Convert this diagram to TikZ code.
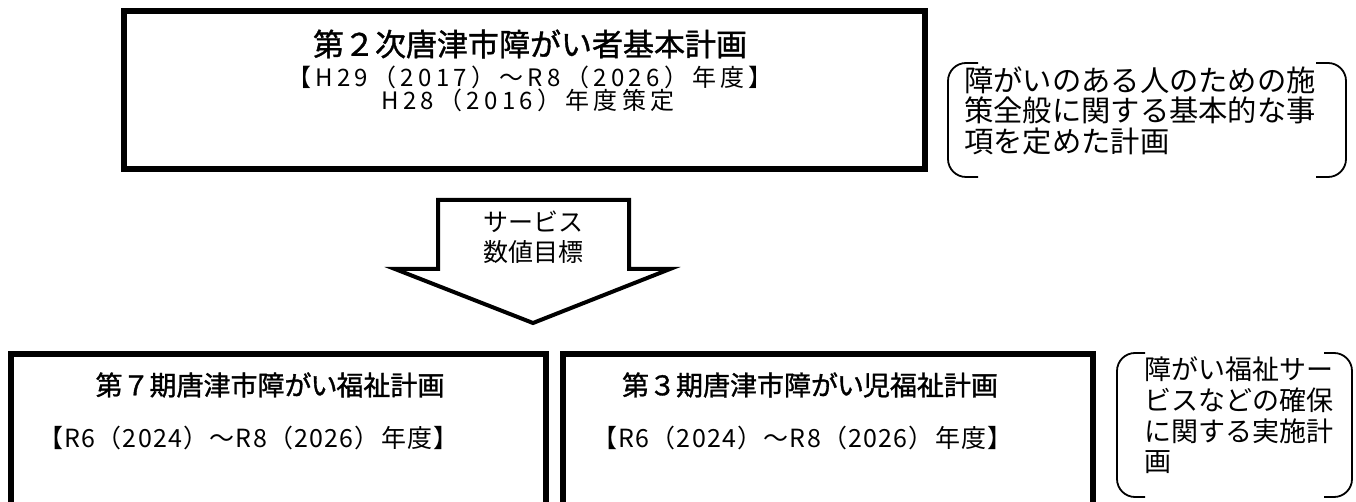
\documentclass[tikz,border=0pt]{standalone}
\usepackage{fontspec}
\setmainfont{Noto Sans CJK JP}
\newfontfamily\cjkb[FakeBold=1.2]{Noto Sans CJK JP}
\newfontfamily\cjkbp[FakeBold=1.2, CharacterWidth=AlternateProportional]{Noto Sans CJK JP}
\newfontfamily\cjksp[LetterSpace=18]{Noto Sans CJK JP}
\newfontfamily\cjkspb[LetterSpace=5]{Noto Sans CJK JP}
\newcommand\fsz[2]{\fontsize{#1pt}{#2pt}\selectfont}
\newcommand\kana[1]{{\cjkbp #1}}
\begin{document}
\begin{tikzpicture}[x=1pt,y=-1pt,
  planbox/.style={draw, line width=6pt, inner sep=0pt},
  toptitle/.style={inner sep=0pt, font=\cjkb\fsz{31}{34}},
  bottitle/.style={inner sep=0pt, font=\cjkb\fsz{27}{30}},
  topsub/.style={inner sep=0pt, font=\cjksp\fsz{24}{28}},
  botsub/.style={inner sep=0pt, anchor=west, font=\cjkspb\fsz{25}{28}},
  sidetxt/.style={inner sep=0pt, anchor=west},
  brk/.style={line width=1.8pt, rounded corners=18pt},
  arrowshape/.style={draw, line width=4pt, line join=miter},
]
\useasboundingbox (0,0) rectangle (1356,502);
% top box
\node[planbox, minimum width=801.5pt, minimum height=158.5pt] (top) at (524.25,90.25) {};
\node[toptitle] (toptitle) at (530,44) {第２次唐津市障がい者基本計画};
\node[topsub] (topsub1) at (530,77) {【H29（2017）～R8（2026）年度】};
\node[topsub] (topsub2) at (528,100) {H28（2016）年度策定};
% top side note
\draw[brk] (978,63) -- (948,63) -- (948,177) -- (978,177);
\draw[brk] (1316,63) -- (1346,63) -- (1346,177) -- (1316,177);
\node[sidetxt, font=\fsz{29.3}{30}] (side1a) at (964,80) {障がいのある人のための施};
\node[sidetxt, font=\fsz{29.3}{30}] (side1b) at (964,110.5) {策全般に関する基本的な事};
\node[sidetxt, font=\fsz{29.3}{30}] (side1c) at (964,141) {項を定めた計画};
% arrow
\draw[arrowshape] (438,200) -- (629,200) -- (629,269) -- (670,269) -- (533,323) -- (395,269) -- (438,269) -- cycle;
\node[inner sep=0pt, font=\fsz{25}{30}] (arrowtxt1) at (533,222) {サービス};
\node[inner sep=0pt, font=\fsz{25}{30}] (arrowtxt2) at (533,252) {数値目標};
% bottom boxes
\node[planbox, minimum width=534.7pt, minimum height=180pt] (b1) at (278.35,444) {};
\node[planbox, minimum width=529.5pt, minimum height=180pt] (b2) at (827.75,444) {};
\node[bottitle] (b1title) at (270,385) {第７期唐津市障\kana{がい}福祉計画};
\node[botsub] (b1sub) at (38,438) {【R6（2024）～R8（2026）年度】};
\node[bottitle] (b2title) at (810,385) {第３期唐津市障\kana{がい}児福祉計画};
\node[botsub] (b2sub) at (592,438) {【R6（2024）～R8（2026）年度】};
% bottom side note
\draw[brk] (1145,353) -- (1117,353) -- (1117,497) -- (1145,497);
\draw[brk] (1324,353) -- (1352,353) -- (1352,497) -- (1324,497);
\node[sidetxt, font=\fsz{27}{30}] (side2a) at (1144,369) {障がい福祉サー};
\node[sidetxt, font=\fsz{27}{30}] (side2b) at (1144,400) {ビスなどの確保};
\node[sidetxt, font=\fsz{27}{30}] (side2c) at (1144,431) {に関する実施計};
\node[sidetxt, font=\fsz{27}{30}] (side2d) at (1144,462) {画};
\end{tikzpicture}
\end{document}
